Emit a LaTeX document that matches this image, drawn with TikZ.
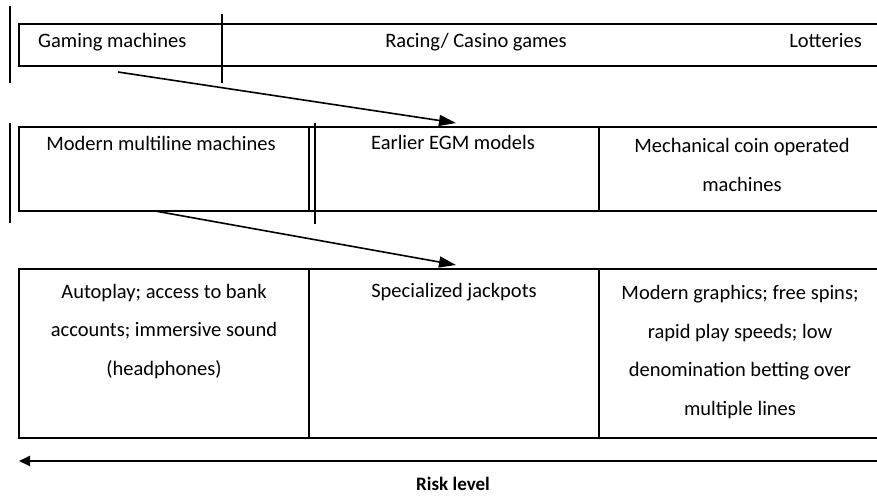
\documentclass[tikz,border=0pt]{standalone}
\usepackage{fontspec}
\setmainfont{Carlito}
\usetikzlibrary{arrows.meta}
\tikzset{>/.tip={Triangle[length=17pt,width=11pt]},
  cell/.style={font=\fontsize{20.5}{38.5}\selectfont, align=center, anchor=base, inner sep=0pt},
  rule/.style={line width=1.1pt},
  bar/.style={line width=1.4pt}}

\begin{document}
\begin{tikzpicture}[x=1pt,y=-1pt]
\useasboundingbox (0,0) rectangle (877,495);
% first band
\draw[rule] (877,24) -- (19,24) -- (19,66) -- (877,66);
\draw[bar] (10,6) -- (10,83);
\draw[bar] (222,14) -- (222,83);
\node[cell, anchor=base west] (1) at (38,48)  {Gaming machines};
\node[cell]                   (2) at (476,48) {Racing/ Casino games};
\node[cell, anchor=base east] (3) at (862,48) {Lotteries};

% second band (anchor base = last line)
\draw[rule] (877,127) -- (19,127) -- (19,211) -- (877,211);
\draw[rule] (309,127) -- (309,211);
\draw[rule] (599,127) -- (599,211);
\draw[bar] (10,123) -- (10,223);
\draw[bar] (315,123) -- (315,224);
\node[cell] (4) at (161,150) {Modern multiline machines};
\node[cell] (5) at (453,149) {Earlier EGM models};
\node[cell] (6) at (742,191) {Mechanical coin operated\\machines};

% third band
\draw[rule] (877,269) -- (19,269) -- (19,438) -- (877,438);
\draw[rule] (309,269) -- (309,438);
\draw[rule] (599,269) -- (599,438);
\node[cell] (7) at (164,375) {Autoplay; access to bank\\accounts; immersive sound\\(headphones)};
\node[cell] (8) at (454,297) {Specialized jackpots};
\node[cell] (9) at (740,415) {Modern graphics; free spins;\\rapid play speeds; low\\denomination betting over\\multiple lines};

% arrows
\coordinate (a1) at (118,72);
\coordinate (a2) at (456,123);
\coordinate (b1) at (155,211);
\coordinate (b2) at (456,265);
\coordinate (r1) at (877,461);
\coordinate (r2) at (19,461);
\path[->, line width=1.6pt] (a1) edge (a2);
\path[->, line width=1.6pt] (b1) edge (b2);
\path[-{Triangle[length=11pt,width=10pt]}, line width=2pt] (r1) edge (r2);
\node[font=\fontsize{19}{22}\selectfont\bfseries, anchor=base, inner sep=0pt] (10) at (453,490) {Risk level};
\end{tikzpicture}
\end{document}
